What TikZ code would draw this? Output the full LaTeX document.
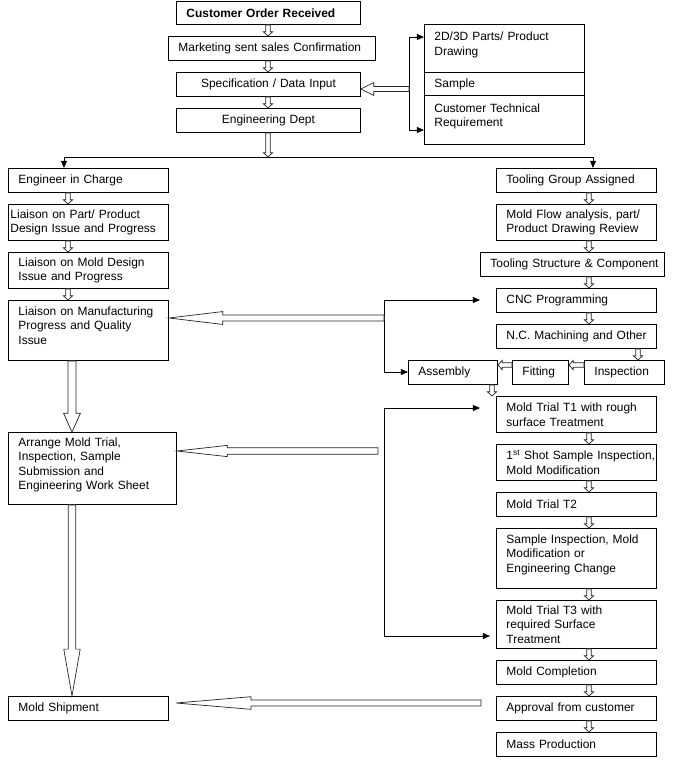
\documentclass[tikz,border=0pt]{standalone}
\usepackage{fontspec}
\setmainfont{Liberation Sans}[WordSpace=0.6]
\usetikzlibrary{calc,arrows.meta}

\newcommand{\flowfont}{\fontsize{10.2}{12.4}\selectfont}
% hollow block arrow: from, tip, shaft half width, head half width, head length
\newcommand{\blockarrow}[5]{%
  \coordinate (ba-s) at #1;
  \coordinate (ba-t) at #2;
  \coordinate (ba-h) at ($(ba-t)!#5!(ba-s)$);
  \draw[blockline] ($(ba-s)!#3!90:(ba-t)$) -- ($(ba-h)!#3!90:(ba-t)$)
    -- ($(ba-h)!#4!90:(ba-t)$) -- (ba-t) -- ($(ba-h)!#4!-90:(ba-t)$)
    -- ($(ba-h)!#3!-90:(ba-t)$) -- ($(ba-s)!#3!-90:(ba-t)$) -- cycle;
}
\newcommand{\smallarrow}[2]{\blockarrow{#1}{#2}{1.9pt}{3.9pt}{3.6pt}}

\begin{document}
\begin{tikzpicture}[x=0.03cm,y=-0.03cm]
        \tikzstyle{proc}=[draw,line width=0.8pt,anchor=north west,align=left,inner xsep=0.3cm,inner ysep=0pt,font=\flowfont,text width=4.2cm,minimum height=0.72cm,
          execute at begin node={\rightskip=0pt plus 1fil minus 50pt\hyphenpenalty=10000\hbadness=10000}]
        \tikzstyle{midtext}=[execute at begin node={\leftskip=0pt plus 1fil\parfillskip=0pt}]
        \tikzstyle{toptext}=[execute at end node={\\[-4pt]\mbox{}}]
        \tikzstyle{blockline}=[draw=black!85,line width=0.6pt,fill=white,line join=miter]
        \tikzstyle{conn}=[line width=0.8pt]
        \tikzstyle{arrowline}=[line width=0.8pt,-{Triangle[length=6pt,width=5pt]}]
        \path[fill=white,use as bounding box] (0,0) rectangle (673,760);

        % order intake
        \node[proc,font=\flowfont\bfseries,text width=4.92cm,minimum height=0.69cm] (cor) at (176,1) {Customer Order Received};
        \node[proc,text width=5.61cm] (msc) at (168,36) {Marketing sent sales Confirmation};
        \node[proc,text width=4.92cm,midtext] (spec) at (176,72) {Specification / Data Input};
        \node[proc,text width=4.92cm,midtext] (eng) at (176,108) {Engineering Dept};
        \node[proc,minimum height=1.44cm,toptext] (drw) at (424,24) {2D/3D Parts/ Product\\Drawing};
        \node[proc,minimum height=0.69cm] (smp) at (424,72) {Sample};
        \node[proc,minimum height=1.47cm,toptext] (req) at (424,95) {Customer Technical\\Requirement};

        % engineer side
        \node[proc] (eic) at (8,168) {Engineer in Charge};
        \node[proc,inner xsep=0.06cm,text width=4.68cm,minimum height=1.08cm] (lpd) at (8,204) {Liaison on Part/ Product\\Design Issue and Progress};
        \node[proc,minimum height=1.08cm] (lmd) at (8,252) {Liaison on Mold Design\\Issue and Progress};
        \node[proc,minimum height=1.8cm,toptext] (lmf) at (8,300) {Liaison on Manufacturing\\Progress and Quality\\Issue};
        \node[proc,text width=4.44cm,minimum height=2.16cm,toptext] (arr) at (8,432) {Arrange Mold Trial,\\Inspection, Sample\\Submission and\\Engineering Work Sheet};
        \node[proc] (ms) at (8,696) {Mold Shipment};

        % tooling side
        \node[proc] (tga) at (496,168) {Tooling Group Assigned};
        \node[proc,minimum height=1.08cm] (mfa) at (496,204) {Mold Flow analysis, part/\\Product Drawing Review};
        \node[proc,text width=4.92cm] (tsc) at (480,252) {Tooling Structure \& Component};
        \node[proc] (cnc) at (496,288) {CNC Programming};
        \node[proc] (ncm) at (496,324) {N.C. Machining and Other};
        \node[proc,text width=1.8cm] (ins) at (584,360) {Inspection};
        \node[proc,text width=1.08cm] (fit) at (512,360) {Fitting};
        \node[proc,text width=2.07cm] (asm) at (408,360) {Assembly};
        \node[proc,minimum height=1.08cm] (mt1) at (496,396) {Mold Trial T1 with rough\\surface Treatment};
        \node[proc,minimum height=1.08cm] (fss) at (496,444) {1\textsuperscript{st} Shot Sample Inspection,\\Mold Modification};
        \node[proc] (mt2) at (496,492) {Mold Trial T2};
        \node[proc,minimum height=1.8cm,toptext] (sim) at (496,528) {Sample Inspection, Mold\\Modification or\\Engineering Change};
        \node[proc,minimum height=1.44cm] (mt3) at (496,600) {Mold Trial T3 with\\required Surface\\Treatment};
        \node[proc] (mc) at (496,660) {Mold Completion};
        \node[proc] (afc) at (496,696) {Approval from customer};
        \node[proc] (mp) at (496,732) {Mass Production};

        \coordinate (tx) at (268,0);
        \coordinate (lx) at (68,0);
        \coordinate (bx) at (72,0);
        \coordinate (rx) at (589,0);
        \coordinate (ix) at (638,0);
        \coordinate (ax) at (492,0);
        \coordinate (hy) at (0,365);

        % top column
        \foreach \a/\b in {cor/msc,msc/spec,spec/eng}
          {\smallarrow{(\a.south -| tx)}{(\b.north -| tx)}}
        \coordinate (fan) at (268,157);
        \coordinate (fanl) at (64,157);
        \coordinate (fanr) at (593,157);
        \draw[conn] (fanl) -- (fanr);
        \draw[arrowline] (fanl) -- (fanl |- eic.north);
        \draw[arrowline] (fanr) -- (fanr |- tga.north);
        \smallarrow{(eng.south -| tx)}{(fan)}

        % customer inputs
        \coordinate (brt) at (409,37);
        \coordinate (brb) at (409,130);
        \coordinate (brm) at (409,89);
        \draw[conn] (brt) -- (brb);
        \draw[arrowline] (brt) -- (brt -| drw.west);
        \draw[arrowline] (brb) -- (brb -| req.west);
        \blockarrow{(brm)}{(brm -| spec.east)}{2.1pt}{5.5pt}{11pt}

        % left column
        \foreach \a/\b in {eic/lpd,lpd/lmd,lmd/lmf}
          {\smallarrow{(\a.south -| lx)}{(\b.north -| lx)}}
        \blockarrow{(lmf.south -| bx)}{(arr.north -| bx)}{3.4pt}{7.2pt}{16pt}
        \blockarrow{(arr.south -| bx)}{(ms.north -| bx)}{3.2pt}{7pt}{40pt}

        % right column
        \foreach \a/\b in {tga/mfa,mfa/tsc,tsc/cnc,cnc/ncm,mt1/fss,fss/mt2,mt2/sim,sim/mt3,mt3/mc,mc/afc,afc/mp}
          {\smallarrow{(\a.south -| rx)}{(\b.north -| rx)}}
        \smallarrow{(ncm.south -| ix)}{(ins.north -| ix)}
        \smallarrow{(ins.west |- hy)}{(fit.east |- hy)}
        \smallarrow{(fit.west |- hy)}{(asm.east |- hy)}
        \smallarrow{(asm.south -| ax)}{(mt1.north -| ax)}

        % feedback links
        \coordinate (ja) at (384,300);
        \coordinate (jb) at (384,372);
        \coordinate (cnct) at (480,300);
        \draw[conn] (ja) -- (jb);
        \draw[arrowline] (ja) -- (cnct);
        \draw[arrowline] (jb) -- (jb -| asm.west);
        \coordinate (jm) at (384,318);
        \blockarrow{(jm)}{(jm -| lmf.east)}{2.6pt}{5.5pt}{46pt}

        \coordinate (jc) at (384,408);
        \coordinate (jd) at (384,636);
        \coordinate (t1t) at (480,408);
        \coordinate (t3t) at (490,636);
        \draw[conn] (jc) -- (jd);
        \draw[arrowline] (jc) -- (t1t);
        \draw[arrowline] (jd) -- (t3t);
        \coordinate (je) at (378,451);
        \blockarrow{(je)}{(je -| arr.east)}{2.8pt}{4.8pt}{43pt}

        \coordinate (af) at (481,703);
        \coordinate (mst) at (176,703);
        \blockarrow{(af)}{(mst)}{2.5pt}{5.4pt}{64pt}
\end{tikzpicture}
\end{document}
